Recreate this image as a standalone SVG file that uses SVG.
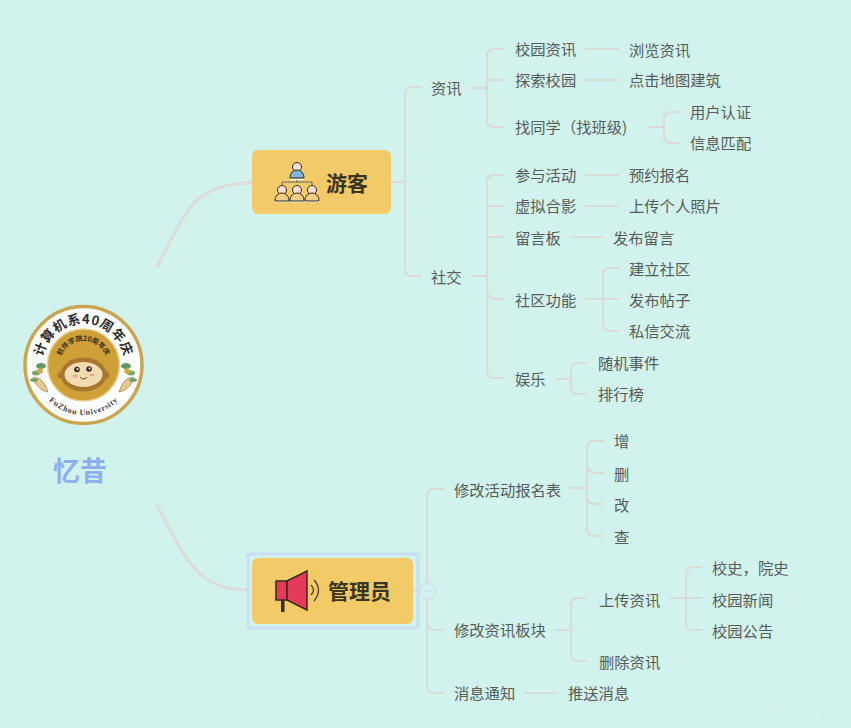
<svg xmlns="http://www.w3.org/2000/svg" width="851" height="728" viewBox="0 0 851 728">
<style>
.c{fill:none;stroke:#d9dbd9;stroke-width:2;stroke-linecap:round}
.m{fill:none;stroke:#dcdcdb;stroke-width:3;stroke-linecap:round}
.t{font-family:"Noto Sans CJK SC","Liberation Sans",sans-serif;font-size:15.300px;fill:#565c5a;dominant-baseline:central}
.b{font-family:"Noto Sans CJK SC","Liberation Sans",sans-serif;font-size:21px;font-weight:700;fill:#3b3420;dominant-baseline:central}
.o{stroke:#2f2a26;stroke-width:1}
</style>
<defs>
<path id="a1" d="M42.600 372.200A41.500 41.500 0 1 1 124.400 372.200"/>
<path id="a2" d="M59.900 369.200A24 24 0 1 1 107.100 369.200"/>
<path id="a3" d="M36 374A48 48 0 0 0 131 374"/>
<g id="p"><circle cx="0" cy="-5" r="4.500" fill="#fbdfd3" class="o"/><path d="M-7 6V5A7 7 0 0 1 7 5V6Z" stroke="#2f2a26" stroke-width="1"/></g>
<g id="leaf"><path d="M0 0C6 -2 12 4 15 14C9 13 3 9 0 0Z" fill="#e8c98f" stroke="#8a6a3c" stroke-width=".6"/><ellipse cx="8" cy="-12" rx="5" ry="3" fill="#5f9a62"/><ellipse cx="3" cy="-5" rx="4" ry="2.500" fill="#79a85f"/><circle cx="7" cy="-7" r="2.800" fill="#d9a53c"/><ellipse cx="1" cy="2" rx="4" ry="1.800" fill="#6f9f5e"/></g>
</defs>
<rect width="851" height="728" fill="#d2f2ed"/>
<path d="M770 707H797M778 723H792M833 707V711M833 715V717M816 714H818" stroke="#e9f8f5" stroke-width="1" stroke-dasharray="2 2" fill="none"/>
<g id="connectors">
<path class="m" d="M157 267C186 212 193 183 252 183"/>
<path class="m" d="M157 506C186 558 196 590 248 590"/>
<path class="c" d="M391 182H405M421 87H412Q405 87 405 94V269Q405 276 412 276H420"/>
<path class="c" d="M472 88H487M503 49H494Q487 49 487 56V120Q487 127 494 127H503M487 80H503"/>
<path class="c" d="M586 49H618M586 80H618M648 127H664M679 112H671Q664 112 664 119V136Q664 143 671 143H679"/>
<path class="c" d="M472 276H487M503 175H494Q487 175 487 182V371Q487 378 494 378H503M487 206H503M487 237H503M487 292Q488 299 496 299H503"/>
<path class="c" d="M586 175H618M586 206H618M571 237H602"/>
<path class="c" d="M586 299H603M618 268H610Q603 268 603 275V324Q603 331 610 331H618M603 299H618"/>
<path class="c" d="M556 379H571M586 363H578Q571 363 571 370V387Q571 394 578 394H586"/>
<path class="c" d="M413 590H420M443 489H434Q427 489 427 496V686Q427 693 434 693H443M427 623Q428 630 436 630H443"/>
<path class="c" d="M571 488H587M603 441H594Q587 441 587 448V529Q587 536 594 536H603M587 466Q588 473 596 473H603M587 497Q588 504 596 504H603"/>
<path class="c" d="M556 630H571M586 598H578Q571 598 571 605V654Q571 661 578 661H586"/>
<path class="c" d="M670 598H702M702 567H693Q686 567 686 574V623Q686 630 693 630H702"/>
<path class="c" d="M525 693H557"/>
<circle cx="428" cy="591" r="8" fill="#d2f2ed" stroke="#d3e2e8" stroke-width="2"/>
<path d="M424 591H432" stroke="#d3e2e8" stroke-width="1.500"/>
</g>
<g id="root">
<circle cx="83.500" cy="365" r="58.500" fill="#fff" stroke="#c9a64f" stroke-width="3.500"/>
<circle cx="83.500" cy="365" r="36" fill="#cfa037" stroke="#e6cf8e" stroke-width="1.500"/>
<text font-family="Noto Sans CJK SC,sans-serif" font-size="13" font-weight="700" fill="#2b2b2b" letter-spacing=".8"><textPath href="#a1" startOffset="50%" text-anchor="middle">计算机系40周年庆</textPath></text>
<text font-family="Noto Sans CJK SC,sans-serif" font-size="7" font-weight="700" fill="#3d2c12"><textPath href="#a2" startOffset="50%" text-anchor="middle">软件学院20周年庆</textPath></text>
<text font-family="Liberation Serif,serif" font-size="8" font-weight="700" fill="#3a3a3a" letter-spacing=".7"><textPath href="#a3" startOffset="50%" text-anchor="middle">FuZhou University</textPath></text>
<circle cx="61" cy="375" r="3.500" fill="#a9762f"/><circle cx="106" cy="375" r="3.500" fill="#a9762f"/>
<ellipse cx="83.500" cy="374.500" rx="23" ry="17" fill="#a9762f"/>
<ellipse cx="83.500" cy="374.500" rx="19" ry="12.500" fill="#f3dcb0"/>
<circle cx="77" cy="369.500" r="2.800" fill="#3a2c22"/><circle cx="89" cy="369" r="2.800" fill="#3a2c22"/>
<circle cx="77.500" cy="369" r="1" fill="#fff"/><circle cx="89.500" cy="368.500" r="1" fill="#fff"/>
<ellipse cx="75" cy="376" rx="2.500" ry="1.500" fill="#eaa59a"/><ellipse cx="92" cy="375" rx="2.500" ry="1.500" fill="#eaa59a"/>
<path d="M80 377Q83.500 381 87 377" fill="none" stroke="#4a3320" stroke-width=".9"/>
<use href="#leaf" transform="translate(33 378)"/>
<use href="#leaf" transform="translate(134 378) scale(-1 1)"/>
<text x="53" y="469" font-family="Noto Sans CJK SC,sans-serif" font-size="27" font-weight="700" fill="#8fb0ee" dominant-baseline="central">忆昔</text>
</g>
<g id="visitor">
<rect x="252" y="150" width="139" height="64" rx="6" fill="#f2cb68"/>
<path d="M290 179.500H304M274.500 201.500H320" stroke="#fff" stroke-width="1.500"/>
<use href="#p" transform="translate(297 172)" fill="#7fb5dc"/>
<path d="M282 185V182H312V185M297 180V182" fill="none" stroke="#666" stroke-width="1"/>
<use href="#p" transform="translate(282 195)" fill="#f5cf85"/>
<use href="#p" transform="translate(297 195)" fill="#f5cf85"/>
<use href="#p" transform="translate(312 195)" fill="#f5cf85"/>
<text class="b" x="326" y="182">游客</text>
</g>
<g id="admin">
<rect x="248" y="554" width="170" height="74" fill="none" stroke="#c8dff3" stroke-width="3" rx="2"/>
<rect x="252" y="558" width="161" height="66" rx="6" fill="#f2cb68"/>
<rect x="281" y="599" width="3.500" height="13" fill="#3a2a20"/>
<path d="M276 581H287V600H276Z" fill="#e63a5a" stroke="#3a2a20" stroke-width="1.500"/>
<path d="M287 581L307 571V610L287 600Z" fill="#e63a5a" stroke="#3a2a20" stroke-width="1.500"/>
<path d="M311 585Q316 590 311 595M314 580Q323 590 314 601" fill="none" stroke="#4a4030" stroke-width="1.300"/>
<text class="b" x="328" y="590">管理员</text>
</g>
<g id="nodes">
<text class="t" x="431" y="87">资讯</text>
<text class="t" x="515" y="48">校园资讯</text>
<text class="t" x="629" y="49">浏览资讯</text>
<text class="t" x="515" y="79">探索校园</text>
<text class="t" x="629" y="79">点击地图建筑</text>
<text class="t" x="515" y="126">找同学（找班级)</text>
<text class="t" x="690" y="111">用户认证</text>
<text class="t" x="690" y="142">信息匹配</text>
<text class="t" x="431" y="276">社交</text>
<text class="t" x="515" y="174">参与活动</text>
<text class="t" x="629" y="174">预约报名</text>
<text class="t" x="515" y="205">虚拟合影</text>
<text class="t" x="629" y="205">上传个人照片</text>
<text class="t" x="515" y="237">留言板</text>
<text class="t" x="613" y="237">发布留言</text>
<text class="t" x="515" y="299">社区功能</text>
<text class="t" x="629" y="268">建立社区</text>
<text class="t" x="629" y="299">发布帖子</text>
<text class="t" x="629" y="330">私信交流</text>
<text class="t" x="515" y="378">娱乐</text>
<text class="t" x="598" y="362">随机事件</text>
<text class="t" x="598" y="393">排行榜</text>
<text class="t" x="454" y="489">修改活动报名表</text>
<text class="t" x="614" y="440">增</text>
<text class="t" x="614" y="473">删</text>
<text class="t" x="614" y="504">改</text>
<text class="t" x="614" y="536">查</text>
<text class="t" x="454" y="629">修改资讯板块</text>
<text class="t" x="599" y="599">上传资讯</text>
<text class="t" x="712" y="567">校史，院史</text>
<text class="t" x="712" y="599">校园新闻</text>
<text class="t" x="712" y="630">校园公告</text>
<text class="t" x="599" y="661">删除资讯</text>
<text class="t" x="454" y="692">消息通知</text>
<text class="t" x="568" y="692">推送消息</text>
</g>
</svg>
